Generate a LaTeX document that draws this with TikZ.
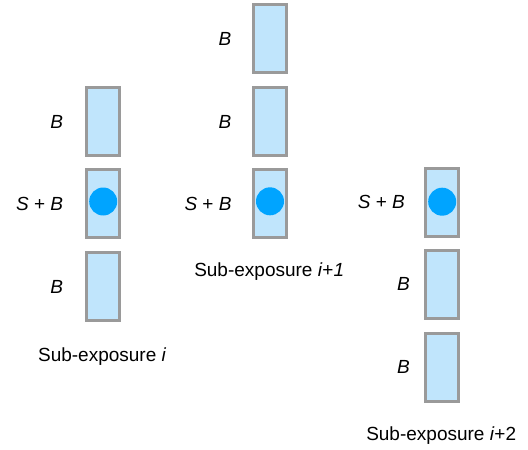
\documentclass[tikz,border=0pt]{standalone}
\usepackage{fontspec}
\setmainfont{Liberation Sans}
\definecolor{cellfill}{HTML}{C0E5FC}
\definecolor{cellline}{HTML}{9A9A9A}
\definecolor{dotblue}{HTML}{00A4FF}
\begin{document}
\begin{tikzpicture}[x=1pt,y=-1pt,
  cell/.style={draw=cellline, fill=cellfill, line width=3pt, minimum width=32.5pt, minimum height=68pt, inner sep=0pt},
  dot/.style={circle, fill=dotblue, minimum size=28pt, inner sep=0pt},
  lbl/.style={anchor=east, inner sep=0pt, font=\fontsize{19}{22}\selectfont},
  captxt/.style={anchor=base, inner sep=0pt, font=\fontsize{19}{22}\selectfont}]
\useasboundingbox (0,0) rectangle (528,450);
% column 1
\node[cell] (a1) at (103.2,121.2) {};
\node[cell] (a2) at (103.2,203.8) {};
\node[cell] (a3) at (103.2,286.5) {};
\node[dot] (ad) at (103.2,201.5) {};
\node[lbl] (la1) at (63.3,121.5) {\textit{B}};
\node[lbl] (la2) at (63.3,203.5) {\textit{S} + \textit{B}};
\node[lbl] (la3) at (63.3,286.5) {\textit{B}};
\node[captxt] (ca) at (102.2,361.7) {Sub-exposure \textit{i}};
% column 2
\node[cell] (b1) at (270,38.3) {};
\node[cell] (b2) at (270,121.3) {};
\node[cell] (b3) at (270,203.8) {};
\node[dot] (bd) at (270,201.3) {};
\node[lbl] (lb1) at (231.5,38.5) {\textit{B}};
\node[lbl] (lb2) at (231.5,121.5) {\textit{B}};
\node[lbl] (lb3) at (231.7,203.5) {\textit{S} + \textit{B}};
\node[captxt] (cb) at (269.2,276.7) {Sub-exposure \textit{i}+\textit{1}};
% column 3
\node[cell] (c1) at (442.2,202) {};
\node[cell] (c2) at (442.2,284.2) {};
\node[cell] (c3) at (442.2,367) {};
\node[dot] (cd) at (442.2,201.7) {};
\node[lbl] (lc1) at (405,202) {\textit{S} + \textit{B}};
\node[lbl] (lc2) at (410,284.2) {\textit{B}};
\node[lbl] (lc3) at (410,367) {\textit{B}};
\node[captxt] (cc) at (441.2,440.7) {Sub-exposure \textit{i}+2};
\end{tikzpicture}
\end{document}
